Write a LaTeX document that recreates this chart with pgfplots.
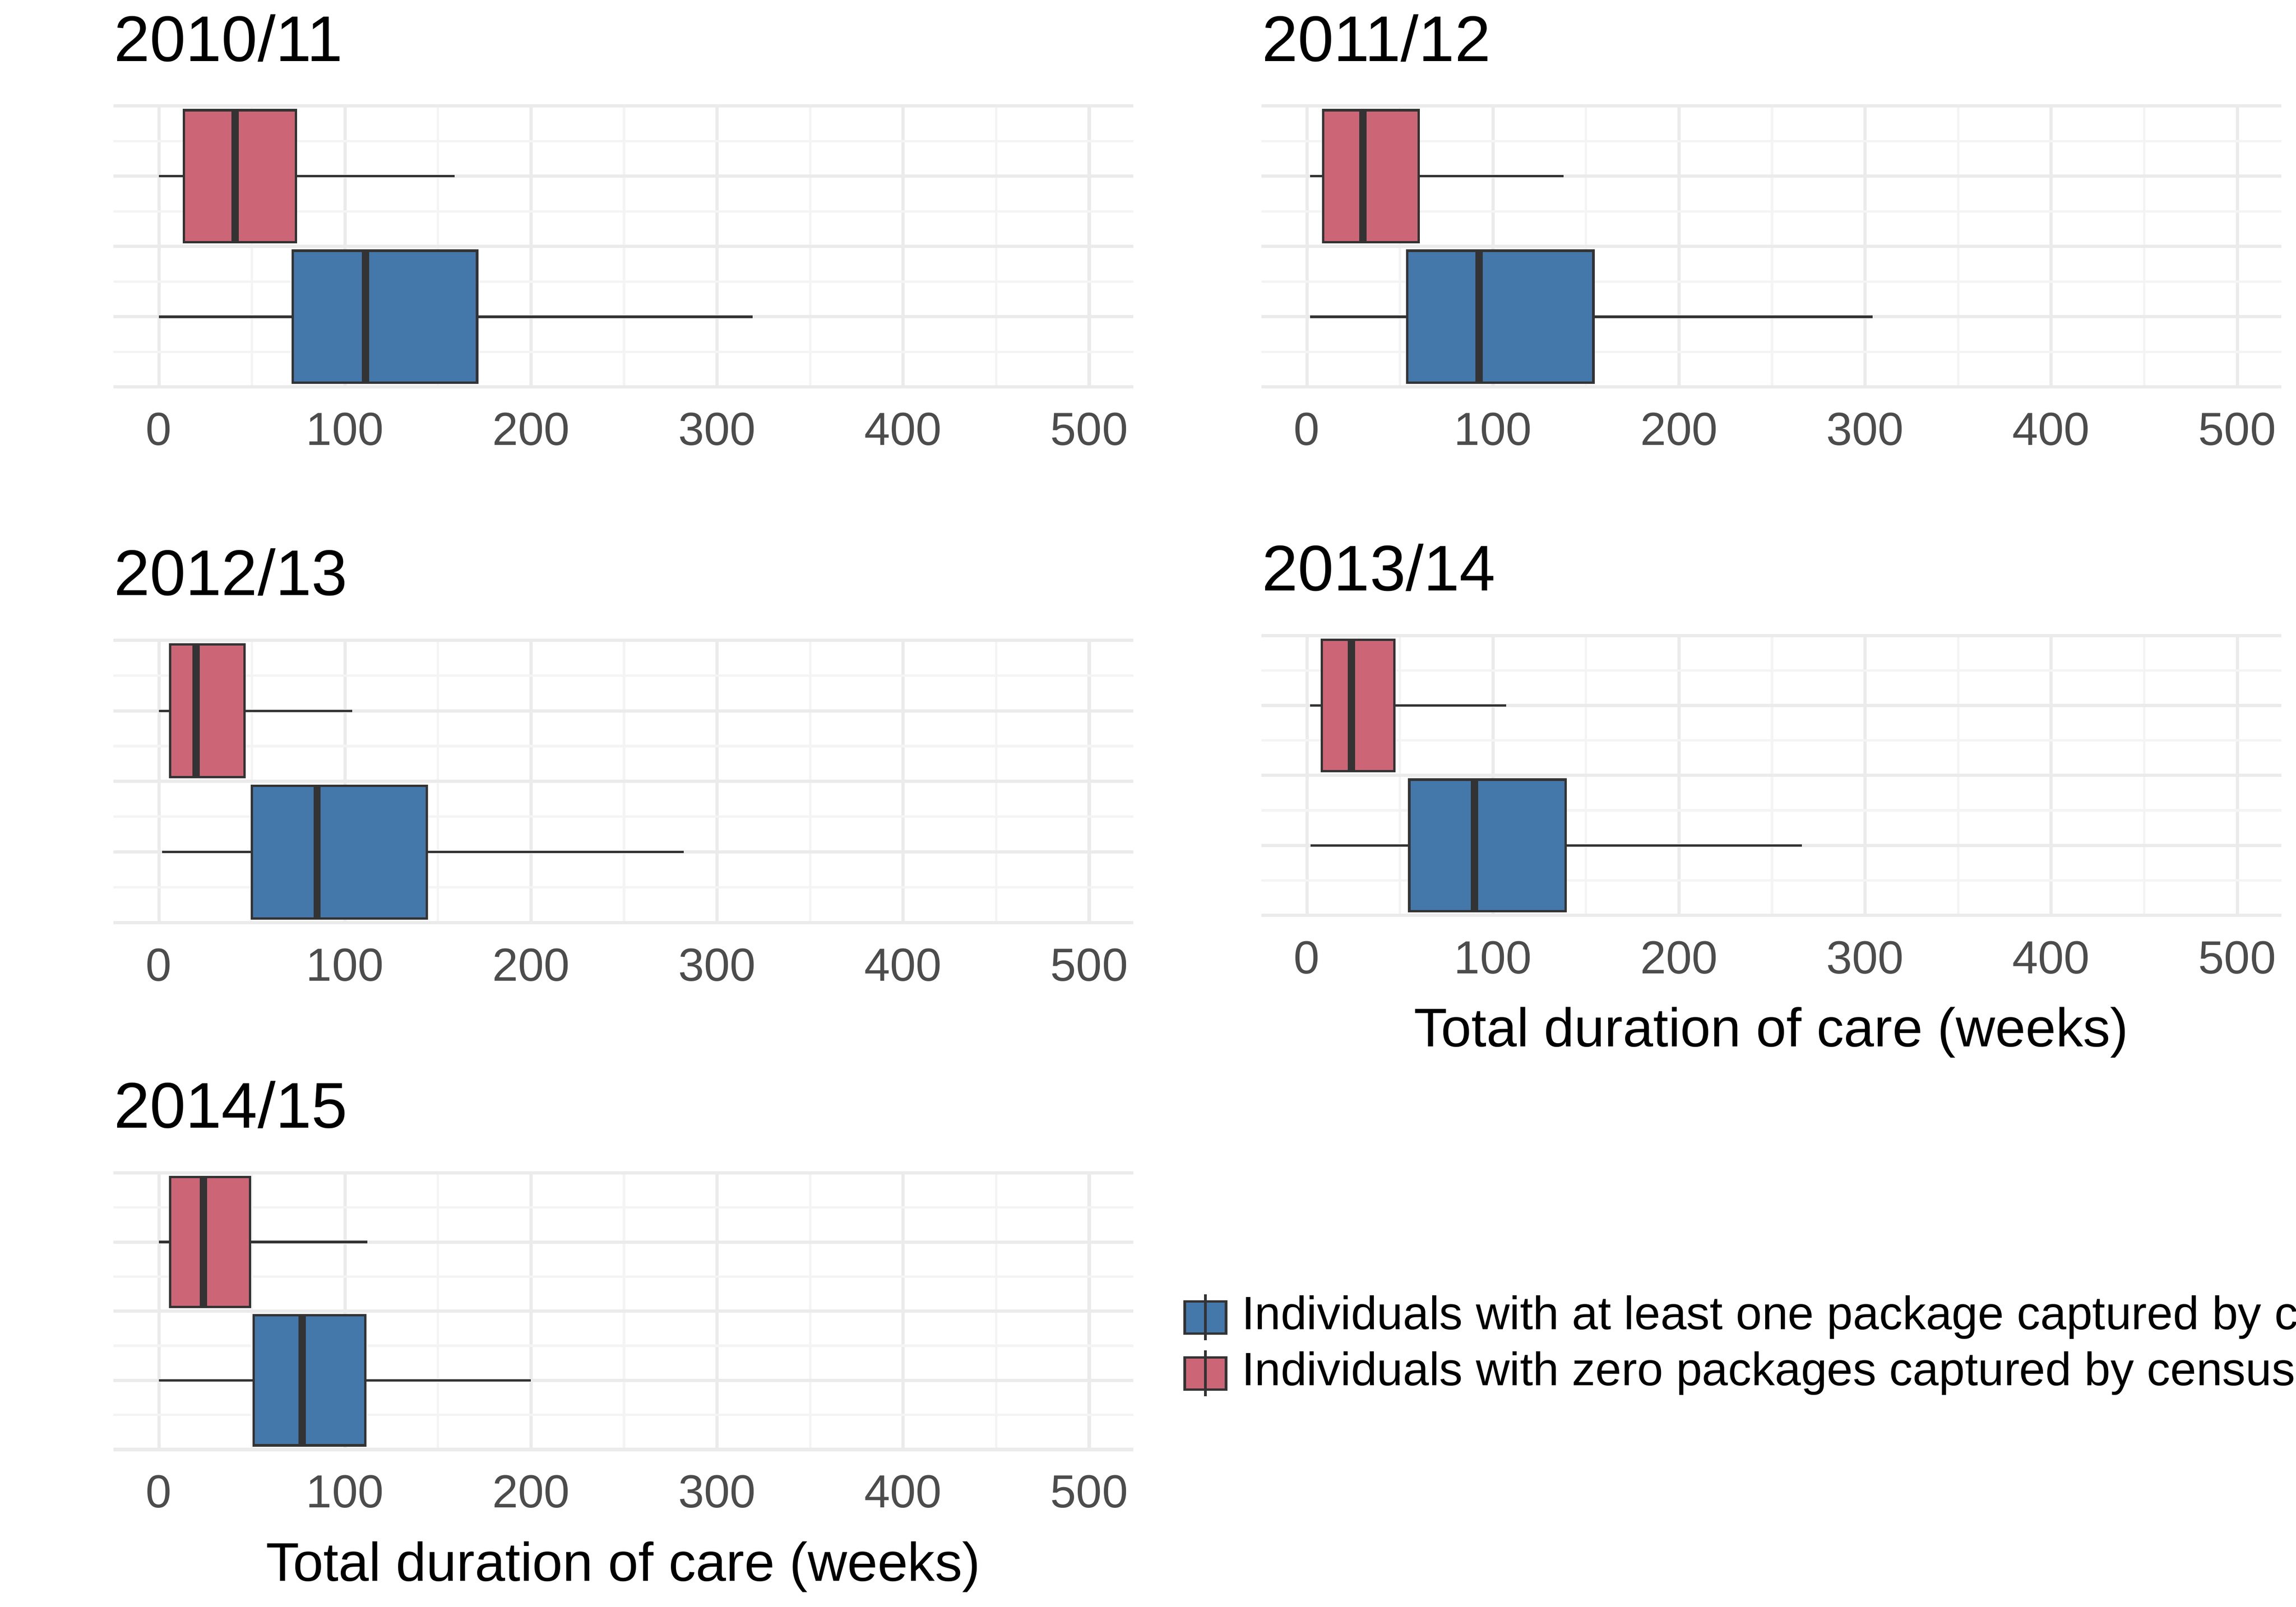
\documentclass[border=0pt]{standalone}
\usepackage{pgfplots}
\pgfplotsset{compat=1.18}
\usepgfplotslibrary{statistics}
\usepackage{fontspec}
\setmainfont{Liberation Sans}
\definecolor{cred}{HTML}{CC6677}
\definecolor{cblue}{HTML}{4477AA}
\definecolor{gmaj}{HTML}{EBEBEB}
\definecolor{gmin}{HTML}{F4F4F4}
\pgfplotsset{
 panel/.style={
  scale only axis, width=8.885cm,
  xmin=-24.5, xmax=523.7, ymin=0.5, ymax=2.5,
  xtick={0,100,200,300,400,500},
  minor xtick={-50,50,150,250,350,450},
  ytick={0.5,1,1.5,2,2.5}, minor ytick={0.75,1.25,1.75,2.25},
  yticklabels={},
  xmajorgrids, ymajorgrids, xminorgrids, yminorgrids,
  major grid style={gmaj, line width=0.8pt},
  minor grid style={gmin, line width=0.6pt},
  axis line style={draw=none},
  major tick length=0pt, minor tick length=0pt,
  tick label style={font=\fontsize{11.5}{13}\selectfont, text=black!70},
  /pgf/number format/assume math mode=true,
  xticklabel style={yshift=-0.1cm},
  xlabel style={font=\fontsize{13.5}{16}\selectfont, yshift=-0.05cm},
  boxplot/draw direction=x,
  title style={at={(0,1)}, anchor=south west, inner xsep=0pt, yshift=0.05cm, font=\fontsize{16}{19}\selectfont},
 },
 bx/.style={draw=black!80, line width=0.6pt, fill=#1, solid,
   boxplot/every median/.style={line width=1.8pt, draw=black!80}},
}
\newcommand{\boxes}[2]{%
 \addplot[bx=cblue, boxplot prepared={#1, draw position=1, box extend=0.94, whisker extend=0}] coordinates {};
 \addplot[bx=cred, boxplot prepared={#2, draw position=2, box extend=0.94, whisker extend=0}] coordinates {};
}
\begin{document}
\begin{tikzpicture}
\useasboundingbox (0,0) rectangle (20,14);
\begin{axis}[panel, at={(0.987cm,10.628cm)}, height=2.449cm, title={2010/11}]
\boxes{lower whisker=0, lower quartile=72, median=111, upper quartile=171, upper whisker=319}
      {lower whisker=0, lower quartile=13.4, median=41, upper quartile=73.6, upper whisker=159}
\end{axis}
\begin{axis}[panel, at={(10.987cm,10.628cm)}, height=2.449cm, title={2011/12}]
\boxes{lower whisker=1.6, lower quartile=54, median=92.6, upper quartile=154, upper whisker=304}
      {lower whisker=1.6, lower quartile=8.7, median=30, upper quartile=60, upper whisker=138}
\end{axis}
\begin{axis}[panel, at={(0.987cm,5.962cm)}, height=2.46cm, title={2012/13}]
\boxes{lower whisker=1.6, lower quartile=50, median=85, upper quartile=144, upper whisker=282}
      {lower whisker=0, lower quartile=6, median=20, upper quartile=46, upper whisker=104}
\end{axis}
\begin{axis}[panel, at={(10.987cm,6.026cm)}, height=2.436cm, title={2013/14}, xlabel={Total duration of care (weeks)}]
\boxes{lower whisker=2, lower quartile=55, median=90, upper quartile=139, upper whisker=266}
      {lower whisker=1.6, lower quartile=8, median=24, upper quartile=47, upper whisker=107}
\end{axis}
\begin{axis}[panel, at={(0.987cm,1.372cm)}, height=2.41cm, title={2014/15}, xlabel={Total duration of care (weeks)}]
\boxes{lower whisker=0, lower quartile=51, median=77, upper quartile=111, upper whisker=200}
      {lower whisker=0, lower quartile=6, median=24, upper quartile=49, upper whisker=112}
\end{axis}
% legend
\foreach \yy/\cc/\tt in {2.522/cblue/{Individuals with at least one package captured by census},2.035/cred/{Individuals with zero packages captured by census}}{
 \draw[black!80, line width=0.6pt, fill=\cc] (10.32,\yy-0.14) rectangle (10.68,\yy+0.14);
 \draw[black!80, line width=0.6pt] (10.5,\yy-0.2) -- (10.5,\yy+0.2);
 \node[anchor=west, inner xsep=0pt, font=\fontsize{11.6}{14}\selectfont] at (10.81,\yy) {\tt};
}
\end{tikzpicture}
\end{document}
